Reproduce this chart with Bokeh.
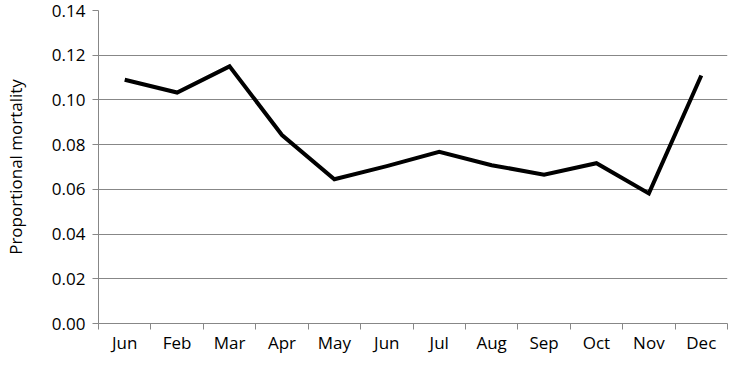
from bokeh.plotting import figure
from bokeh.models import FixedTicker, Range1d
from bokeh.embed import file_html
from bokeh.resources import INLINE

months = ["Jun", "Feb", "Mar", "Apr", "May", "Jun", "Jul", "Aug", "Sep", "Oct", "Nov", "Dec"]
mortality = [0.109, 0.1033, 0.115, 0.0843, 0.0645, 0.0704, 0.0768, 0.0708, 0.0666, 0.0717, 0.0582, 0.1109]
y_ticks = [0.0, 0.02, 0.04, 0.06, 0.08, 0.10, 0.12, 0.14]

xs = [i + 0.5 for i in range(len(months))]

p = figure(width=729, height=356, output_backend="svg", toolbar_location=None,
           x_range=Range1d(0, len(months)), y_range=Range1d(0, 0.14),
           min_border_left=95, min_border_right=2, min_border_top=10, min_border_bottom=5)
p.outline_line_color = None
p.background_fill_color = "white"

p.line(xs, mortality, line_color="black", line_width=4, line_join="miter")

FONT = "Open Sans"
GRAY = "#878787"

# x axis
p.xaxis.ticker = FixedTicker(ticks=xs, minor_ticks=list(range(len(months) + 1)))
p.xaxis.major_label_overrides = {x: m for x, m in zip(xs, months)}
p.xaxis.major_tick_line_color = None
p.xaxis.major_tick_out = 0
p.xaxis.major_tick_in = 0
p.xaxis.minor_tick_line_color = GRAY
p.xaxis.minor_tick_out = 6
p.xaxis.minor_tick_in = 0
p.xaxis.axis_line_color = GRAY
p.xaxis.major_label_text_font = FONT
p.xaxis.major_label_text_font_size = "17px"
p.xaxis.major_label_text_color = "black"
p.xaxis.major_label_standoff = 1
p.xaxis.axis_label = None
p.xaxis.axis_label_standoff = 0
p.xgrid.grid_line_color = None

# y axis
p.yaxis.ticker = FixedTicker(ticks=y_ticks)
p.yaxis.major_label_overrides = {t: f"{t:.2f}" for t in y_ticks}
p.yaxis.minor_tick_line_color = None
p.yaxis.major_tick_line_color = GRAY
p.yaxis.major_tick_out = 6
p.yaxis.major_tick_in = 0
p.yaxis.axis_line_color = GRAY
p.yaxis.major_label_text_font = FONT
p.yaxis.major_label_text_font_size = "17px"
p.yaxis.major_label_text_color = "black"
p.yaxis.major_label_standoff = 7
p.yaxis.axis_label = "Proportional mortality"
p.yaxis.axis_label_text_font = FONT
p.yaxis.axis_label_text_font_size = "17px"
p.yaxis.axis_label_text_font_style = "normal"
p.yaxis.axis_label_text_color = "black"
p.yaxis.axis_label_standoff = 22
p.ygrid.grid_line_color = GRAY
p.ygrid.grid_line_width = 1

open("out.html", "w").write(file_html(p, INLINE))
